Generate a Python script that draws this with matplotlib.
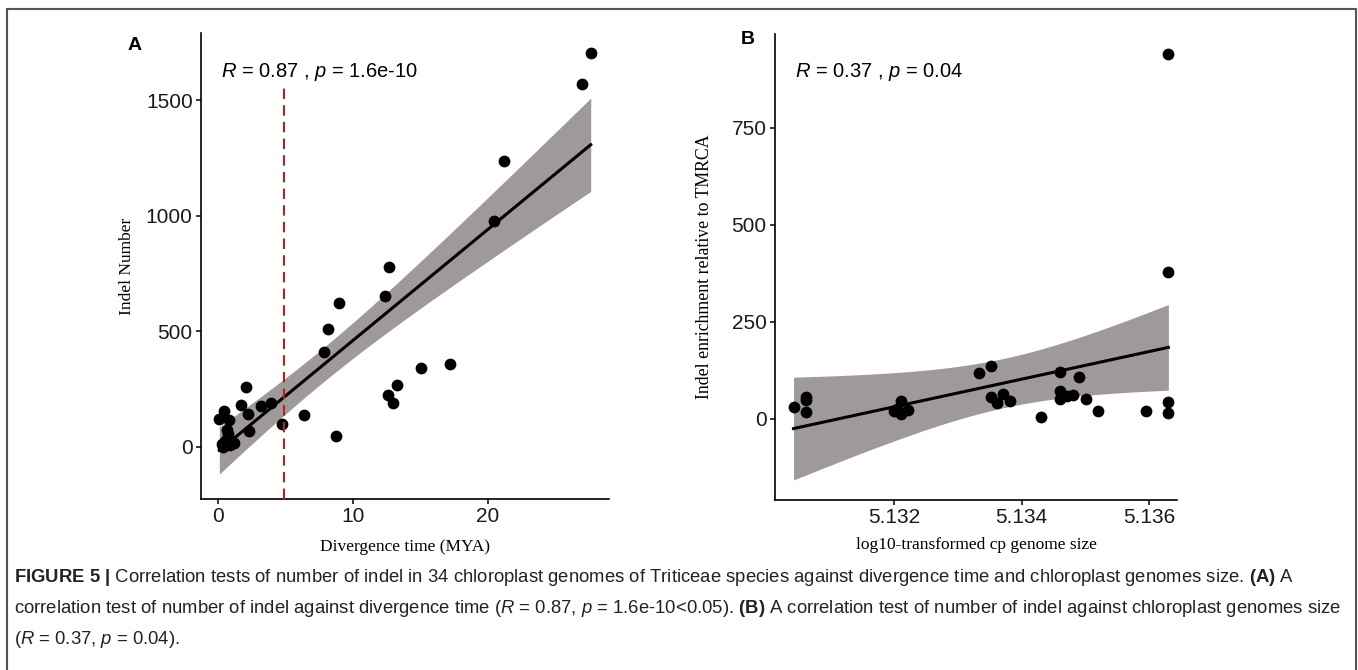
#!/usr/bin/python3

# indel correlation figure, two panels plus caption
import numpy as np
import matplotlib.pyplot as plt
from matplotlib.patches import Rectangle

# panel A: divergence time (MYA) vs indel number
div_time = [27.65, 27.0, 21.2, 20.5, 12.7, 12.4, 8.99, 8.15, 7.85, 15.1, 17.2,
            13.3, 12.6, 13.0, 6.37, 8.74, 4.74, 3.93, 3.21, 2.12, 1.70, 2.22,
            2.32, 0.12, 0.47, 0.86, 0.67, 0.30, 0.37, 0.79, 1.21, 0.74, 0.93, 0.55]
indel_num = [1702, 1568, 1238, 977, 779, 655, 624, 511, 412, 341, 360,
             268, 225, 189, 138, 49, 99, 190, 179, 258, 182, 143,
             70, 122, 157, 115, 75, 14, 0, 34, 17, 55, 10, 25]
cutoff_time = 4.9

# panel B: log10 genome size vs indel enrichment
genome_size = [5.13630, 5.13630, 5.13042, 5.13062, 5.13062, 5.13062, 5.13200,
               5.13211, 5.13211, 5.13205, 5.13222, 5.13333, 5.13351, 5.13351,
               5.13361, 5.13371, 5.13381, 5.13430, 5.13460, 5.13460, 5.13460,
               5.13471, 5.13481, 5.13490, 5.13500, 5.13520, 5.13595, 5.13630,
               5.13630]
enrichment = [940, 380, 30, 57, 49, 17, 21, 47, 13, 27, 22, 118, 137, 57,
              40, 64, 47, 4, 122, 72, 51, 60, 62, 108, 52, 21, 21, 43,
              16]

ticks_a_x = [0, 10, 20]
ticks_a_y = [0, 500, 1000, 1500]
ticks_b_x = [5.132, 5.134, 5.136]
ticks_b_y = [0, 250, 500, 750]

SANS = ['Liberation Sans', 'DejaVu Sans']
SERIF = ['Liberation Serif', 'DejaVu Serif']
plt.rcParams['font.family'] = SANS
plt.rcParams['mathtext.fontset'] = 'custom'
plt.rcParams['mathtext.rm'] = 'Liberation Sans'
plt.rcParams['mathtext.it'] = 'Liberation Sans:italic'
plt.rcParams['mathtext.bf'] = 'Liberation Sans:bold'

BAND = '#9f999a'
T_CRIT = 2.04  # t(0.975) for ~30 df


# linear fit with 95% confidence band, like geom_smooth(method="lm")
def lm_band(ax, x, y):
  x = np.asarray(x, dtype=float)
  y = np.asarray(y, dtype=float)
  xm = x.mean()
  xc = x - xm
  slope = np.sum(xc * (y - y.mean())) / np.sum(xc ** 2)
  icpt = y.mean() - slope * xm
  resid = y - (icpt + slope * x)
  s = np.sqrt(np.sum(resid ** 2) / (len(x) - 2))
  xs = np.linspace(x.min(), x.max(), 200)
  fit = icpt + slope * xs
  se = s * np.sqrt(1.0 / len(x) + (xs - xm) ** 2 / np.sum(xc ** 2))
  ax.fill_between(xs, fit - T_CRIT * se, fit + T_CRIT * se, color=BAND,
                  lw=0, zorder=1)
  ax.plot(xs, fit, color='black', lw=2.2, zorder=3)


def style_axes(ax):
  for side in ['top', 'right']:
    ax.spines[side].set_visible(False)
  for side in ['left', 'bottom']:
    ax.spines[side].set_linewidth(1.2)
  ax.tick_params(length=3.5, width=1.1, labelsize=15, colors='black',
                 labelcolor='#1a1a1a', pad=2.5)


fig = plt.figure(figsize=(13.58, 6.70), dpi=100)

# ---------------- panel A
ax1 = fig.add_axes([0.148, 0.2552, 0.3004, 0.6955])
ax1.scatter(div_time, indel_num, s=72, color='black', zorder=4, lw=0)
lm_band(ax1, div_time, indel_num)
ax1.vlines(cutoff_time, -225, 1575, colors='#b22222', linestyles=(0, (5, 3)),
           lw=1.5, zorder=5)
ax1.set_xlim(-1.24, 29.0)
ax1.set_ylim(-225, 1790)
ax1.set_xticks(ticks_a_x)
ax1.set_yticks(ticks_a_y)
style_axes(ax1)
ax1.set_xlabel('Divergence time (MYA)', family=SERIF, fontsize=12.5)
ax1.set_ylabel('Indel Number', family=SERIF, fontsize=12.5)
ax1.xaxis.set_label_coords(0.5, -0.085)
ax1.yaxis.set_label_coords(-0.162, 0.5)
ax1.text(0.05, 0.917, r'$\it{R}$ = 0.87 , $\it{p}$ = 1.6e-10',
         transform=ax1.transAxes, fontsize=14.5, va='center', ha='left')

# ---------------- panel B
ax2 = fig.add_axes([0.5707, 0.2537, 0.2962, 0.6955])
ax2.scatter(genome_size, enrichment, s=72, color='black', zorder=4, lw=0)
lm_band(ax2, genome_size, enrichment)
ax2.set_xlim(5.130129, 5.136439)
ax2.set_ylim(-208.8, 992)
ax2.set_xticks(ticks_b_x)
ax2.set_xticklabels([str(t) for t in ticks_b_x])
ax2.set_yticks(ticks_b_y)
style_axes(ax2)
ax2.set_xlabel('log10-transformed cp genome size', family=SERIF, fontsize=12.5)
ax2.set_ylabel('Indel enrichment relative to TMRCA', family=SERIF,
               fontsize=12.8)
ax2.xaxis.set_label_coords(0.5, -0.079)
ax2.yaxis.set_label_coords(-0.154, 0.5)
ax2.text(0.05, 0.919, r'$\it{R}$ = 0.37 , $\it{p}$ = 0.04',
         transform=ax2.transAxes, fontsize=14.5, va='center', ha='left')

# panel letters
fig.text(135 / 1358, 1 - 45 / 670, 'A', fontsize=14, fontweight='bold',
         va='center', ha='center')
fig.text(748 / 1358, 1 - 40 / 670, 'B', fontsize=14, fontweight='bold',
         va='center', ha='center')

# frame round the figure (bottom edge is cut off in the source)
fig.add_artist(Rectangle((7 / 1358, -0.05), (1356 - 7) / 1358, 1.05 - 9 / 670,
                         transform=fig.transFigure, fill=False,
                         edgecolor='#555555', lw=1.5, clip_on=False))

# caption
cap = [
  r'$\bf{FIGURE\ 5\ |}$ Correlation tests of number of indel in 34 chloroplast genomes of Triticeae species against divergence time and chloroplast genomes size. $\bf{(A)}$ A',
  r'correlation test of number of indel against divergence time ($\it{R}$ = 0.87, $\it{p}$ = 1.6e-10<0.05). $\bf{(B)}$ A correlation test of number of indel against chloroplast genomes size',
  r'($\it{R}$ = 0.37, $\it{p}$ = 0.04).',
]
for i, line in enumerate(cap):
  fig.text(14 / 1358, 1 - (577 + 31.5 * i) / 670, line, fontsize=13.3,
           color='#222222', va='center', ha='left')

plt.savefig('out.png', dpi=100)
